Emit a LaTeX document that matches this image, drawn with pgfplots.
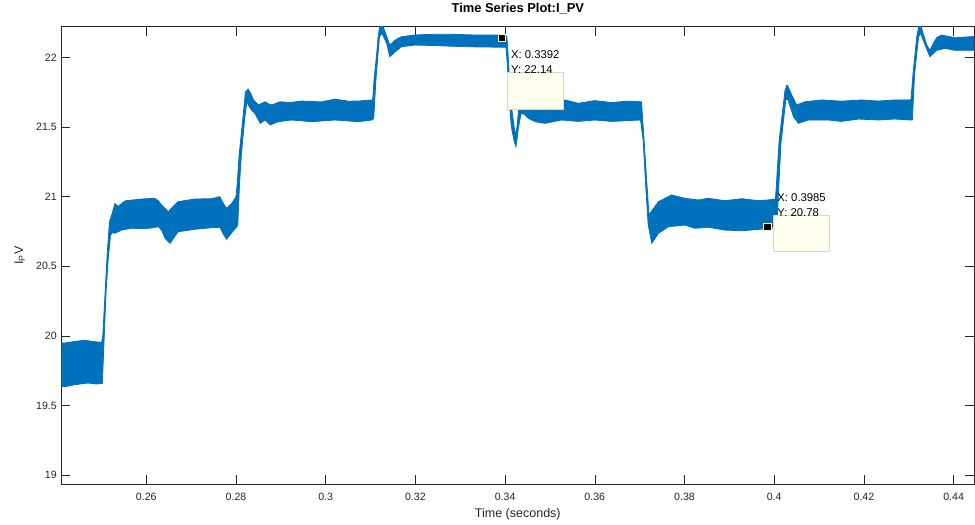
\documentclass[border=0pt]{standalone}
\usepackage{fontspec}
\setmainfont{Liberation Sans}
\usepackage{pgfplots}
\pgfplotsset{compat=1.18}
\usepgfplotslibrary{fillbetween}
\definecolor{mblue}{HTML}{0072BD}
\definecolor{axgray}{HTML}{262626}
\definecolor{tipfill}{HTML}{FFFFEE}
\definecolor{tipedge}{HTML}{D8D8CC}
\pgfplotstableread{
x y
0.2410 19.95
0.2419 19.95
0.2440 19.96
0.2463 19.97
0.2480 19.96
0.2498 19.955
0.2500 19.95
0.2503 20.00
0.2508 20.30
0.2513 20.60
0.2518 20.82
0.2523 20.87
0.2530 20.95
0.2537 20.93
0.2553 20.97
0.2590 20.983
0.2619 20.988
0.2627 20.97
0.2634 20.94
0.2649 20.892
0.2660 20.93
0.2671 20.964
0.2709 20.983
0.2746 20.985
0.2764 21.00
0.2772 20.95
0.2779 20.916
0.2790 20.95
0.2798 20.988
0.2800 21.00
0.2803 21.10
0.2807 21.30
0.2815 21.55
0.2821 21.75
0.2827 21.772
0.2833 21.74
0.2839 21.694
0.2850 21.658
0.2865 21.681
0.2873 21.665
0.2880 21.658
0.2898 21.681
0.2920 21.675
0.2946 21.686
0.2990 21.68
0.3021 21.70
0.3050 21.685
0.3073 21.686
0.3103 21.694
0.3105 21.70
0.3108 21.85
0.3113 22.00
0.3117 22.15
0.3121 22.23
0.3128 22.22
0.3136 22.15
0.3143 22.088
0.3155 22.124
0.3169 22.148
0.3199 22.16
0.3236 22.165
0.3281 22.165
0.3333 22.16
0.3385 22.16
0.3402 22.155
0.3404 22.15
0.3408 21.95
0.3412 21.72
0.3416 21.60
0.3421 21.48
0.3425 21.45
0.3430 21.62
0.3436 21.68
0.3450 21.69
0.3490 21.68
0.3534 21.694
0.3563 21.67
0.3600 21.689
0.3638 21.675
0.3670 21.685
0.3701 21.681
0.3704 21.68
0.3710 21.40
0.3717 21.05
0.3721 20.86
0.3723 20.88
0.3742 20.964
0.3771 21.012
0.3801 20.988
0.3831 20.976
0.3853 20.988
0.3890 20.971
0.3928 20.985
0.3965 20.971
0.4000 20.98
0.4003 20.99
0.4011 21.40
0.4024 21.76
0.4028 21.80
0.4031 21.79
0.4039 21.73
0.4050 21.658
0.4069 21.681
0.4106 21.694
0.4150 21.685
0.4195 21.694
0.4232 21.686
0.4269 21.694
0.4303 21.694
0.4305 21.70
0.4310 21.90
0.4318 22.15
0.4323 22.23
0.4328 22.22
0.4332 22.17
0.4340 22.09
0.4347 22.05
0.4355 22.10
0.4362 22.14
0.4373 22.16
0.4403 22.14
0.4425 22.145
0.4448 22.15
}\upenv
\pgfplotstableread{
x y
0.2410 19.64
0.2419 19.636
0.2440 19.65
0.2470 19.662
0.2490 19.655
0.2502 19.66
0.2505 19.90
0.2510 20.30
0.2515 20.55
0.2520 20.72
0.2523 20.74
0.2530 20.737
0.2545 20.76
0.2567 20.773
0.2600 20.77
0.2627 20.784
0.2634 20.76
0.2642 20.70
0.2653 20.665
0.2671 20.748
0.2709 20.766
0.2746 20.777
0.2764 20.78
0.2772 20.73
0.2779 20.694
0.2790 20.74
0.2802 20.784
0.2804 20.80
0.2808 21.10
0.2812 21.30
0.2819 21.55
0.2825 21.70
0.2827 21.658
0.2835 21.62
0.2842 21.598
0.2854 21.526
0.2865 21.55
0.2876 21.514
0.2894 21.538
0.2924 21.55
0.2969 21.538
0.3021 21.55
0.3073 21.538
0.3103 21.55
0.3107 21.56
0.3112 21.84
0.3116 22.00
0.3120 22.15
0.3126 22.17
0.3136 22.10
0.3143 22.004
0.3155 22.04
0.3169 22.076
0.3199 22.088
0.3236 22.085
0.3311 22.076
0.3400 22.072
0.3402 22.07
0.3405 21.95
0.3409 21.70
0.3414 21.50
0.3420 21.40
0.3424 21.358
0.3427 21.42
0.3429 21.478
0.3435 21.59
0.3440 21.598
0.3452 21.562
0.3467 21.538
0.3489 21.526
0.3526 21.55
0.3563 21.54
0.3600 21.55
0.3638 21.54
0.3700 21.55
0.3702 21.55
0.3708 21.40
0.3714 21.05
0.3719 20.80
0.3727 20.665
0.3742 20.737
0.3764 20.784
0.3801 20.796
0.3823 20.773
0.3853 20.78
0.3890 20.76
0.3928 20.755
0.3965 20.765
0.3994 20.773
0.4005 20.78
0.4006 20.80
0.4015 21.38
0.4026 21.70
0.4031 21.694
0.4043 21.574
0.4054 21.526
0.4076 21.55
0.4121 21.55
0.4150 21.54
0.4188 21.557
0.4232 21.55
0.4269 21.557
0.4303 21.55
0.4308 21.55
0.4313 21.88
0.4322 22.15
0.4327 22.17
0.4332 22.124
0.4347 22.004
0.4362 22.05
0.4381 22.064
0.4403 22.05
0.4448 22.05
}\lowenv
\begin{document}
\begin{tikzpicture}
\begin{axis}[
  at={(0pt,0pt)}, anchor=south west,
  scale only axis, width=913pt, height=457.6pt,
  xmin=0.241048, xmax=0.444615, ymin=18.9354, ymax=22.2197,
  xtick={0.26,0.28,0.30,0.32,0.34,0.36,0.38,0.40,0.42,0.44},
  ytick={19,19.5,20,20.5,21,21.5,22},
  scaled ticks=false,
  /pgf/number format/assume math mode=true,
  tick align=inside, major tick length=9pt,
  axis line style={axgray, line width=0.6pt},
  tick style={axgray, line width=0.6pt},
  xticklabel style={font=\fontsize{10.6}{12}\selectfont, text=axgray, yshift=-5pt},
  yticklabel style={font=\fontsize{10.6}{12}\selectfont, text=axgray, xshift=-1pt},
  title={\textbf{Time Series Plot:I\_PV}},
  title style={font=\fontsize{12.9}{14}\selectfont, at={(axis description cs:0.5,1.0256)}, anchor=center},
  xlabel={Time (seconds)},
  xlabel style={font=\fontsize{12.5}{14}\selectfont, text=axgray, at={(axis description cs:0.5,-0.0656)}, anchor=center},
  ylabel={I\textsubscript{P}V},
  ylabel style={font=\fontsize{12.5}{14}\selectfont, text=axgray, at={(axis description cs:-0.0455,0.5)}, anchor=center},
  clip=true,
]
\addplot[name path=U, mblue, line width=0.8pt] table[x=x,y=y] {\upenv};
\addplot[name path=L, mblue, line width=0.8pt] table[x=x,y=y] {\lowenv};
\addplot[mblue] fill between[of=U and L];

\draw[fill=tipfill, draw=tipedge, line width=0.6pt] (axis cs:0.3406,21.892) rectangle (axis cs:0.3530,21.629);
\draw[fill=tipfill, draw=tipedge, line width=0.6pt] (axis cs:0.3998,20.863) rectangle (axis cs:0.41226,20.610);
\node[anchor=west, inner sep=0pt, font=\fontsize{11.3}{13}\selectfont] at (axis cs:0.3413,22.0215) {X: 0.3392};
\node[anchor=west, inner sep=0pt, font=\fontsize{11.3}{13}\selectfont] at (axis cs:0.3413,21.914) {Y: 22.14};
\node[anchor=west, inner sep=0pt, font=\fontsize{11.3}{13}\selectfont] at (axis cs:0.40067,20.995) {X: 0.3985};
\node[anchor=west, inner sep=0pt, font=\fontsize{11.3}{13}\selectfont] at (axis cs:0.40067,20.8875) {Y: 20.78};

\addplot[only marks, mark=square*, mark size=3.6pt, mark options={fill=black, draw=tipfill!70!yellow, line width=0.8pt}] coordinates {(0.3392,22.14) (0.3985,20.78)};
\end{axis}
\path (-61.3pt,-40.7pt) rectangle (913.7pt,484.3pt);
\end{tikzpicture}
\end{document}
